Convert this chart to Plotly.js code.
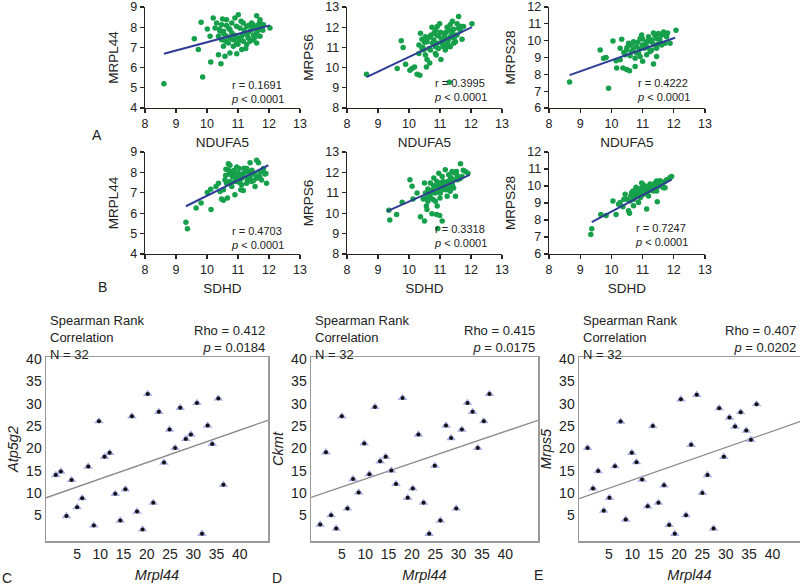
<!DOCTYPE html>
<html><head><meta charset="utf-8">
<script src="https://cdn.plot.ly/plotly-3.0.1.min.js"></script>
<style>html,body{margin:0;padding:0;background:#fff}#chart{width:800px;height:588px}</style>
</head><body><div id="chart"></div>
<script>
// ---------- Panel A: vs NDUFA5 ----------
const a1x = [8.61,9.86,9.59,9.72,9.81,10.01,10.12,10.2,10.31,10.37,10.45,10.5,10.58,10.63,10.69,10.74,10.8,10.96,10.9,11.01,10.53,10.37,10.47,10.63,10.74,10.85,10.96,11.06,11.12,11.17,11.23,11.28,11.33,11.39,11.44,11.49,11.55,11.6,11.6,11.66,11.71,11.76,11.82,12.03,11.6,11.28,11.12,10.85,10.53,10.26,10.42,10.1,11.01,11.17,11.39,10.8,10.63,10.47,11.49,11.71,
  10.55,10.7,10.9,11.05,11.2,11.35,11.5,11.65,11.3,10.95,10.6,11.45,11.1,10.75,11.55,11.8,10.4,11.0,11.25,11.7];
const a1y = [5.2,5.53,7.43,6.89,8.24,7.91,6.28,8.46,8.21,6.64,6.19,8.41,6.56,8.08,7.22,6.72,7.71,6.69,8.46,8.62,7.8,7.55,7.38,7.55,7.88,7.38,7.22,7.96,7.55,8.21,7.71,8.04,7.47,7.8,8.21,7.38,7.96,8.57,7.71,8.12,7.55,8.04,8.12,7.96,7.22,7.14,6.89,7.06,7.06,7.96,7.8,7.55,7.47,7.3,7.3,8.21,8.37,8.12,8.12,8.37,
  7.65,7.95,7.6,7.35,7.85,8.1,7.6,7.85,7.6,8.05,7.3,7.9,8.3,7.45,7.5,7.85,7.9,7.15,6.95,8.25];
const a2x = [8.63,9.75,9.81,9.62,9.89,10.03,10.1,10.18,10.26,10.35,10.32,10.37,10.42,10.48,10.53,10.56,10.67,10.74,10.8,10.85,10.88,10.96,10.99,11.03,11.07,11.14,11.17,11.23,11.28,11.33,11.39,11.44,11.5,11.55,11.6,11.66,11.71,11.76,12.03,10.42,10.58,10.69,10.8,10.91,11.12,11.33,11.55,10.53,10.58,11.01,11.23,11.44,10.91,10.32,11.33,10.69,10.85,11.3,
  10.45,10.6,10.75,10.9,11.05,11.2,11.35,11.5,11.65,10.65,10.95,11.1,11.25,11.45,10.5,10.85,11.6,11.15,10.7,11.4];
const a2y = [9.67,11.33,11.0,9.95,10.17,9.87,9.95,10.03,9.67,9.62,11.12,11.7,11.4,10.87,10.62,10.03,10.23,12.0,11.37,11.03,10.62,11.57,12.17,10.4,11.2,11.7,10.87,12.0,11.4,11.03,11.7,11.9,11.28,12.17,12.53,11.83,11.4,12.03,12.17,10.95,11.28,10.87,11.7,11.2,11.37,11.53,11.62,11.53,10.4,11.75,11.03,11.2,12.03,10.7,12.12,11.53,10.7,9.28,
  11.0,11.45,11.2,11.6,11.4,11.75,11.85,11.6,12.05,10.95,10.95,11.05,11.2,11.45,11.25,11.85,11.95,11.55,11.6,12.3];
const a3x = [8.66,9.64,9.75,9.83,9.91,10.05,10.15,10.28,10.33,10.37,10.44,10.49,10.55,10.58,10.65,10.71,10.76,10.81,10.87,10.92,10.97,11.0,11.05,11.11,11.19,11.24,11.29,11.35,11.4,11.45,11.51,11.56,11.61,11.67,11.72,11.77,11.88,12.07,10.6,10.81,11.13,11.45,10.49,10.28,10.92,11.29,11.61,11.13,10.76,10.17,11.45,
  10.5,10.65,10.85,11.0,11.15,11.3,11.4,11.55,11.7,10.7,10.9,11.2,11.5,10.4,11.8,11.0,10.6,11.35];
const a3y = [7.54,9.45,8.96,9.0,7.17,9.98,8.81,9.55,10.09,8.38,9.16,8.28,9.84,8.22,9.35,9.94,8.96,9.65,9.26,10.13,10.33,8.77,9.55,9.84,10.23,9.35,10.04,8.61,9.74,10.13,10.43,9.94,10.33,10.52,9.84,10.23,9.84,10.62,9.74,9.26,9.16,9.55,9.45,8.87,9.06,9.45,9.74,9.94,8.47,8.38,9.06,
  9.6,9.8,9.9,9.75,9.6,9.9,10.3,10.1,10.4,9.5,9.5,10.0,9.8,9.3,10.45,10.1,9.1,10.45];
// ---------- Panel B: vs SDHD ----------
const b1x = [9.32,9.37,9.65,9.81,10.01,10.12,10.13,10.29,10.37,10.47,10.53,10.58,10.61,10.66,10.72,10.74,10.8,10.83,10.87,10.9,10.96,10.98,11.01,11.04,11.09,11.12,11.17,11.23,11.28,11.33,11.39,11.44,11.49,11.55,11.6,11.66,11.71,11.76,11.82,11.87,11.92,11.9,10.69,10.8,10.94,11.06,10.63,10.53,10.42,11.17,11.39,11.6,11.28,11.12,10.74,
  10.7,10.85,11.0,11.15,11.3,11.45,11.55,11.7,10.75,10.9,11.05,11.2,11.35,10.6,11.5,11.8,10.95,11.1];
const b1y = [5.56,5.24,6.26,6.5,7.02,7.18,6.18,7.31,7.47,6.69,6.63,7.63,8.15,6.74,7.95,8.35,7.31,7.79,8.11,6.9,8.27,7.55,7.95,8.19,7.15,7.71,7.11,8.03,7.47,7.79,8.47,7.55,7.95,7.31,8.6,8.47,8.03,7.63,8.19,7.92,7.47,7.95,8.43,8.03,7.79,7.63,7.47,7.15,7.06,7.95,7.79,7.71,8.19,7.39,7.55,
  8.1,8.0,7.7,7.85,7.65,8.1,7.9,7.8,7.9,7.55,7.5,8.2,8.05,7.85,7.6,8.05,7.95,7.9];
const b2x = [9.35,9.38,9.6,9.78,10.03,10.1,10.13,10.26,10.37,10.46,10.5,10.5,10.56,10.58,10.61,10.67,10.69,10.74,10.78,10.8,10.85,10.89,10.93,10.96,10.99,11.01,11.07,11.1,11.14,11.17,11.23,11.28,11.33,11.39,11.44,11.5,11.53,11.57,11.66,11.71,11.82,11.9,10.69,10.85,11.01,11.17,11.33,10.53,10.91,11.23,11.44,10.78,11.07,10.61,10.93,
  10.65,10.8,10.95,11.1,11.25,11.4,11.55,11.65,10.75,10.9,11.05,11.2,11.35,10.55,11.45,11.75,11.0,11.3];
const b2y = [10.14,9.67,9.94,10.54,11.64,11.32,10.7,10.99,9.83,10.7,11.48,9.62,10.35,10.18,11.19,10.86,11.48,9.97,11.16,11.72,10.59,9.94,11.32,11.96,9.89,10.99,9.62,11.56,11.16,12.13,11.4,11.88,11.07,12.05,11.64,10.83,12.05,11.64,12.42,11.8,12.05,11.96,10.75,10.99,11.48,11.32,11.64,10.99,10.35,10.83,11.24,10.67,11.8,10.59,9.25,
  11.1,11.35,11.1,11.3,11.55,11.4,11.85,11.7,11.0,11.55,11.25,11.15,11.75,10.75,12.0,12.1,10.75,11.3];
const b3x = [9.34,9.37,9.66,9.83,10.05,10.15,10.23,10.37,10.44,10.55,10.58,10.62,10.69,10.73,10.79,10.83,10.87,10.92,10.97,11.02,11.08,11.13,11.19,11.24,11.35,11.4,11.47,11.51,11.56,11.64,11.72,11.77,11.88,11.93,10.6,10.76,10.92,11.08,10.81,11.29,11.45,10.49,10.97,10.28,11.67,10.71,11.19,10.4,11.02,
  10.65,10.8,10.9,11.0,11.1,11.2,11.3,11.4,11.55,11.7,10.7,10.85,11.05,11.25,11.45,11.6,10.95,11.15];
const b3y = [7.15,7.49,8.32,8.26,9.12,8.32,8.93,8.78,9.51,8.55,8.39,9.41,9.7,9.22,9.93,9.54,9.03,9.79,10.18,9.51,9.98,8.64,9.79,10.12,9.7,10.18,9.08,9.98,10.31,10.18,9.89,10.37,10.5,10.56,9.12,9.41,9.31,9.7,9.7,9.89,9.7,9.22,9.89,9.03,9.89,8.84,9.41,9.22,10.08,
  9.6,9.5,9.6,9.7,9.85,10.0,10.05,9.95,10.15,10.25,9.4,9.8,9.55,9.75,10.3,10.0,9.4,9.65];
// regression lines (end points)
const fitA1x = [8.61,12.03], fitA1y = [6.69,8.09];
const fitA2x = [8.63,12.03], fitA2y = [9.53,12.0];
const fitA3x = [8.66,12.04], fitA3y = [7.95,10.17];
const fitB1x = [9.32,11.98], fitB1y = [6.34,8.35];
const fitB2x = [9.3,11.96],  fitB2y = [10.1,11.88];
const fitB3x = [9.37,11.93], fitB3y = [7.88,10.37];
const statsA = [["0.1691","MRPL44"],["0.3995","MRPS6"],["0.4222","MRPS28"]];
const statsB = [["0.4703","MRPL44"],["0.3318","MRPS6"],["0.7247","MRPS28"]];
// ---------- Panels C, D, E: rank vs Mrpl44 ----------
const cx = [0.4,1.5,2.7,3.8,5,6.1,7.4,8.6,9.7,10.9,12,13.2,14.3,15.4,16.8,17.9,19.1,20.2,21.4,22.6,23.7,24.9,26.1,27.2,28.4,29.5,30.8,31.9,33.1,34.1,35.4,36.5];
const cy = [14,14.8,4.8,12.9,6.8,8.8,15.9,2.7,26.1,18.1,19,9.8,3.8,10.8,27.2,5.8,1.8,32.2,7.8,28.2,16.8,24.2,20.1,29.1,22.1,23.1,30.2,0.8,25.1,21,31.2,11.8];
const dx = [0.36,1.6,2.7,3.8,5,6.2,7.4,8.6,9.8,10.9,12.1,13.2,14.4,15.6,16.6,18,19.1,20.2,21.4,22.5,23.7,24.9,26.1,27.3,28.4,29.5,30.7,31.9,33,34.1,35.4,36.6];
const dy = [2.9,19.1,5,2,27.2,6.5,13.1,10.1,21.1,14.2,29.3,17.1,18.1,15,12,31.3,8.9,11,23.1,7.8,0.8,16.1,3.8,25.1,22.3,6.5,24.2,30.2,28.2,20.1,26.1,32.2];
const ex = [0.43,1.6,2.7,3.9,5.1,6.3,7.5,8.6,9.9,10.9,12.1,13.3,14.4,15.6,16.8,17.9,19.1,20.4,21.5,22.6,23.8,25,26.1,27.4,28.6,29.6,30.8,32,33.2,34.4,35.4,36.6];
const ey = [20.1,11,14.9,6,8.9,16,26,4,19,16.9,13,7,25,7.8,11.7,2.8,0.8,31,5,20.8,32,10,14,2,29,18.1,26.9,24.9,28.1,24,21.9,29.9];
const fitCx = [-1.7,46.1], fitCy = [8.9,26.3];
const fitDx = [-1.6,47.0], fitDy = [9.0,26.3];
const fitEx = [-1.4,45.9], fitEy = [8.7,26.0];
const rankTicks = [5,10,15,20,25,30,35,40];
const rankNames = ["Atp5g2","Ckmt","Mrps5"];
const rhoVals = ["0.412","0.415","0.407"];
const pVals = ["0.0184","0.0175","0.0202"];

// ---------- layout helpers ----------
const W = 800, H = 588;
const PX = p => p / W, PY = p => 1 - p / H;
const FONT = "Liberation Sans, Arial, Helvetica, sans-serif";
const GREEN = "#16a04b", BLUE = "#2f3c96";

const traces = [];
const layout = {
  width: W, height: H, margin: {l:0, r:0, t:0, b:0},
  paper_bgcolor: "#fff", plot_bgcolor: "rgba(0,0,0,0)",
  showlegend: false, font: {family: FONT, color: "#222"},
  annotations: []
};

function topAxis(n, xd, yd, yr, ytitle, xtitle, xstand, ystand) {
  const base = {showline:true, linecolor:"#2a2320", linewidth:1.3, ticks:"outside", ticklen:4,
    tickcolor:"#2a2320", tickwidth:1.2, showgrid:false, zeroline:false, dtick:1,
    tickfont:{size:12.5, color:"#222", family:FONT}, automargin:false, fixedrange:true};
  layout["xaxis"+n] = Object.assign({}, base, {domain:[PX(xd[0]),PX(xd[1])], range:[8,13],
    anchor:"y"+n, title:{text:xtitle, font:{size:13.5, color:"#222"}, standoff:xstand}});
  layout["yaxis"+n] = Object.assign({}, base, {domain:[PY(yd[1]),PY(yd[0])], range:yr,
    anchor:"x"+n, title:{text:ytitle, font:{size:13.5, color:"#222"}, standoff:ystand}});
}
function scatterTop(n, x, y, fx, fy) {
  traces.push({type:"scatter", mode:"markers", x:x, y:y, xaxis:"x"+n, yaxis:"y"+n,
    marker:{size:5.5, color:GREEN}, hoverinfo:"skip"});
  traces.push({type:"scatter", mode:"lines", x:fx, y:fy, xaxis:"x"+n, yaxis:"y"+n,
    line:{color:BLUE, width:2}, hoverinfo:"skip"});
}
const topX = [[145,300],[347,502],[549,705]];
const yrs = [[4,9],[8,13],[6,12]];
const rowA = [7,108], rowB = [152,254];
const aData = [[a1x,a1y,fitA1x,fitA1y],[a2x,a2y,fitA2x,fitA2y],[a3x,a3y,fitA3x,fitA3y]];
const bData = [[b1x,b1y,fitB1x,fitB1y],[b2x,b2y,fitB2x,fitB2y],[b3x,b3y,fitB3x,fitB3y]];
const txtA = [[229,92],[432,89.5],[635,89.5]];
const txtB = [[229,237.5],[432,236],[633,235]];
for (let i=0;i<3;i++) {
  topAxis(i+1, topX[i], rowA, yrs[i], statsA[i][1], "NDUFA5", 7, 8);
  scatterTop(i+1, ...aData[i]);
  topAxis(i+4, topX[i], rowB, yrs[i], statsB[i][1], "SDHD", 7, 8);
  scatterTop(i+4, ...bData[i]);
  layout.annotations.push({xref:"paper", yref:"paper", x:PX(txtA[i][0]), y:PY(txtA[i][1]),
    xanchor:"left", yanchor:"middle", align:"left", showarrow:false,
    text:"r = "+statsA[i][0]+"<br><i>p</i> &lt; 0.0001", font:{size:11, color:"#222"}});
  layout.annotations.push({xref:"paper", yref:"paper", x:PX(txtB[i][0]), y:PY(txtB[i][1]),
    xanchor:"left", yanchor:"middle", align:"left", showarrow:false,
    text:"r = "+statsB[i][0]+"<br><i>p</i> &lt; 0.0001", font:{size:11, color:"#222"}});
}

// rank panels
const rkX = [[46,268],[311,538],[579,800]];
const rkXr = [[-1.7,46.1],[-1.6,47.0],[-1.4,45.9]];
const rkY = [357,541];
const rkData = [[cx,cy,fitCx,fitCy],[dx,dy,fitDx,fitDy],[ex,ey,fitEx,fitEy]];
for (let i=0;i<3;i++) {
  const n = i+7;
  const base = {showline:true, mirror:true, linecolor:"#9a9a9a", linewidth:1.5, ticks:"",
    showgrid:false, zeroline:false, tickvals:rankTicks, ticktext:rankTicks.map(String),
    tickfont:{size:14, color:"#222", family:FONT}, automargin:false, fixedrange:true};
  layout["xaxis"+n] = Object.assign({}, base, {domain:[PX(rkX[i][0]),PX(rkX[i][1])], range:rkXr[i],
    anchor:"y"+n, title:{text:"<i>Mrpl44</i>", font:{size:14.5, color:"#222"}, standoff:8}});
  layout["yaxis"+n] = Object.assign({}, base, {domain:[PY(rkY[1]),PY(rkY[0])], range:[-0.8,40.5],
    anchor:"x"+n, title:{text:"<i>"+rankNames[i]+"</i>", font:{size:14.5, color:"#222"}, standoff:4}});
  const [x,y,fx,fy] = rkData[i];
  traces.push({type:"scatter", mode:"lines", x:fx, y:fy, xaxis:"x"+n, yaxis:"y"+n,
    line:{color:"#8a8a8a", width:1.3}, hoverinfo:"skip"});
  traces.push({type:"scatter", mode:"markers", x:x, y:y, xaxis:"x"+n, yaxis:"y"+n,
    marker:{size:8.5, symbol:"triangle-up", color:"#a9afe6"}, hoverinfo:"skip"});
  traces.push({type:"scatter", mode:"markers", x:x, y:y, xaxis:"x"+n, yaxis:"y"+n,
    marker:{size:4, color:"#111"}, hoverinfo:"skip"});
  layout.annotations.push({xref:"paper", yref:"paper", x:PX(rkX[i][0]+2), y:PY(337),
    xanchor:"left", yanchor:"middle", align:"left", showarrow:false,
    text:"Spearman Rank<br>Correlation<br>N = 32", font:{size:13, color:"#222"}});
  layout.annotations.push({xref:"paper", yref:"paper", x:PX(Math.min(rkX[i][1]-1,798)), y:PY(339),
    xanchor:"right", yanchor:"middle", align:"right", showarrow:false,
    text:"Rho = "+rhoVals[i]+"<br><i>p</i> = "+pVals[i], font:{size:13, color:"#222"}});
}
// panel letters
const letters = [["A",97,135],["B",102,287],["C",7,578],["D",277,578],["E",538,575]];
letters.forEach(l => layout.annotations.push({xref:"paper", yref:"paper", x:PX(l[1]), y:PY(l[2]),
  xanchor:"center", yanchor:"middle", showarrow:false, text:l[0], font:{size:14, color:"#222"}}));

Plotly.newPlot("chart", traces, layout, {staticPlot:true, displayModeBar:false});
</script></body></html>
